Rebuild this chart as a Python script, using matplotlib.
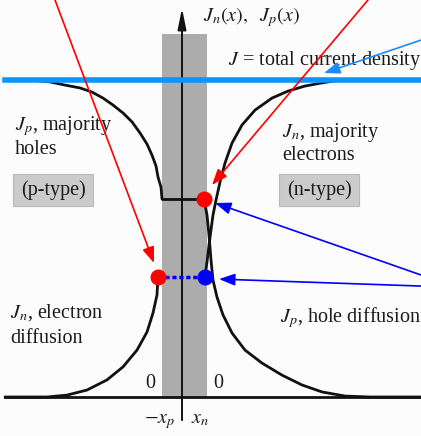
import matplotlib
matplotlib.use("Agg")
import matplotlib.pyplot as plt
from matplotlib.patches import Rectangle

plt.rcParams["mathtext.fontset"] = "stix"
plt.rcParams["font.family"] = ["Liberation Serif", "DejaVu Serif"]

# Normalised current densities (total J = 1)
J_total = 1.0
Jp_junction = 0.625   # hole current across the depletion region
Jn_junction = 0.38    # electron current across the depletion region
x_p_edge = -1.0       # -x_p
x_n_edge = 1.25       # x_n

# Jp in the p region (majority holes)
x_jp_p = [-8.85, -7.6, -6.6, -5.85, -5.1, -4.5, -3.95, -3.45, -2.95, -2.5,
          -2.1, -1.75, -1.5, -1.3, -1.2, -1.05, -1.0]
jp_p = [1.0, 1.0, 0.994, 0.984, 0.975, 0.962, 0.943, 0.921, 0.896, 0.868,
        0.833, 0.798, 0.763, 0.729, 0.694, 0.662, 0.625]

# Jn in the p region (electron diffusion)
x_jn_p = [-8.85, -7.6, -6.75, -5.75, -4.75, -3.75, -2.95, -2.25, -1.75,
          -1.45, -1.25, -1.2]
jn_p = [0.0, 0.0, 0.0, 0.006, 0.022, 0.054, 0.095, 0.148, 0.205,
        0.265, 0.322, 0.38]

# Jp in the n region (hole diffusion)
x_jp_n = [1.1, 1.25, 1.35, 1.45, 1.55, 1.75, 2.05, 2.5, 3.15, 4.0, 5.0,
          6.0, 7.0, 8.15, 9.4, 11.95]
jp_n = [0.625, 0.574, 0.511, 0.432, 0.369, 0.315, 0.259, 0.202, 0.148,
        0.107, 0.069, 0.038, 0.016, 0.003, 0.0, 0.0]

# Jn in the n region (majority electrons)
x_jn_n = [1.15, 1.25, 1.35, 1.45, 1.55, 1.7, 1.9, 2.15, 2.5, 3.0, 3.65,
          4.5, 5.3, 6.15, 7.0, 7.9, 11.95]
jn_n = [0.38, 0.426, 0.479, 0.527, 0.574, 0.621, 0.678, 0.738, 0.801,
        0.858, 0.905, 0.943, 0.965, 0.981, 0.991, 1.0, 1.0]

# Marked points at the depletion-region edges
dot_red_x = [-1.2, 1.1]
dot_red_y = [Jn_junction, Jp_junction]
dot_blue_x = [1.15]
dot_blue_y = [Jn_junction]

fig = plt.figure(figsize=(4.21, 4.36), dpi=100)
fig.patch.set_facecolor("#fcfcfc")
ax = fig.add_axes([0, 0, 1, 1])
ax.set_xlim(-9.1, 11.95)
ax.set_ylim(-0.123, 1.2524)
ax.axis("off")

# depletion region
ax.add_patch(Rectangle((x_p_edge, 0), x_n_edge - x_p_edge, 1.145,
                       facecolor="#acacac", edgecolor="none", zorder=1))

# axes lines
ax.plot([-8.85, 11.95], [0, 0], color="#111111", lw=2.0, zorder=3)
ax.annotate("", xy=(0, 1.227), xytext=(0, -0.073),
            arrowprops=dict(arrowstyle="-|>,head_width=0.18,head_length=0.9",
                            color="#111111", lw=1.4, mutation_scale=14,
                            shrinkA=0, shrinkB=0), zorder=3)

# current components
kw = dict(color="#111111", lw=2.0, zorder=4, solid_capstyle="round")
ax.plot(x_jp_p, jp_p, **kw)
ax.plot([x_p_edge, dot_red_x[1]], [Jp_junction, Jp_junction], **kw)
ax.plot(x_jn_p, jn_p, **kw)
ax.plot(x_jp_n, jp_n, **kw)
ax.plot(x_jn_n, jn_n, **kw)

# total current
ax.plot([-8.85, 11.95], [J_total, J_total], color="#0a96ff", lw=4, zorder=5)

# dotted link across the depletion region
ax.plot([dot_red_x[0], dot_blue_x[0]], [Jn_junction, Jn_junction],
        color="#0000ee", lw=2.5, ls=(0, (1.2, 0.8)), zorder=5)
ax.plot(dot_red_x, dot_red_y, "o", color="#ff0000", ms=10.5, zorder=6)
ax.plot(dot_blue_x, dot_blue_y, "o", color="#0000ff", ms=10.5, zorder=6)

# region boxes
for x0 in (-8.45, 4.85):
    ax.add_patch(Rectangle((x0, 0.601), 4.0, 0.104, facecolor="#cbcbcb",
                           edgecolor="#b8b8b8", lw=0.8, zorder=2))

fs = 14.5
tk = dict(fontsize=fs, color="#1a1a1a", zorder=7)
ax.text(1.05, 1.186, r"$J_n(x),\ \ J_p(x)$", ha="left", va="baseline", **tk)
ax.text(2.3, 1.047, r"$J$ = total current density", ha="left", va="baseline", **tk)
ax.text(-8.35, 0.842, r"$J_p$, majority", ha="left", va="baseline", **tk)
ax.text(-8.35, 0.767, "holes", ha="left", va="baseline", **tk)
ax.text(-6.45, 0.653, "(p-type)", ha="center", va="center", **tk)
ax.text(5.0, 0.820, r"$J_n$, majority", ha="left", va="baseline", **tk)
ax.text(5.0, 0.748, "electrons", ha="left", va="baseline", **tk)
ax.text(6.85, 0.653, "(n-type)", ha="center", va="center", **tk)
ax.text(-8.6, 0.252, r"$J_n$, electron", ha="left", va="baseline", **tk)
ax.text(-8.6, 0.170, "diffusion", ha="left", va="baseline", **tk)
ax.text(4.9, 0.237, r"$J_p$, hole diffusion", ha="left", va="baseline", **tk)
ax.text(-1.6, 0.028, "0", ha="center", va="baseline", **tk)
ax.text(1.8, 0.028, "0", ha="center", va="baseline", **tk)
ax.text(-0.35, -0.082, r"$-x_p$", ha="right", va="baseline", **tk)
ax.text(0.45, -0.082, r"$x_n$", ha="left", va="baseline", **tk)

# pointer arrows
def pointer(tail, head, color, lw=1.2):
    ax.annotate("", xy=head, xytext=tail, annotation_clip=False,
                arrowprops=dict(arrowstyle="-|>,head_width=0.3,head_length=0.8",
                                color=color, lw=lw, mutation_scale=12,
                                shrinkA=0, shrinkB=0), zorder=8)

pointer((-6.35, 1.2524), (-1.4, 0.4227), "#ff0000")
pointer((9.3, 1.2524), (1.5, 0.6688), "#ff0000")
pointer((11.95, 1.126), (7.1, 1.022), "#1a8cff")
pointer((11.95, 0.385), (1.65, 0.612), "#0000ff")
pointer((11.95, 0.350), (1.85, 0.372), "#0000ff")

fig.savefig("out.png", dpi=100)
